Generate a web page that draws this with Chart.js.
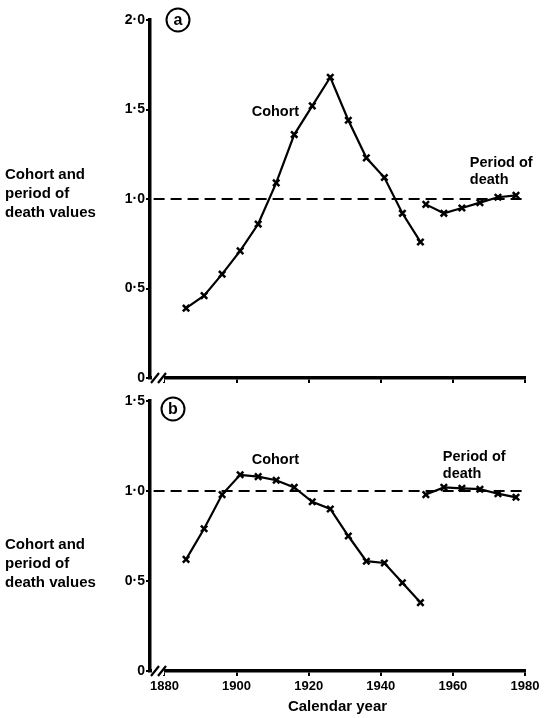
<!DOCTYPE html>
<html>
<head>
<meta charset="utf-8">
<script src="https://cdn.jsdelivr.net/npm/chart.js@4.4.1/dist/chart.umd.min.js"></script>
<style>
  html, body { margin: 0; padding: 0; background: #fff; }
  #wrap { position: relative; width: 552px; height: 718px; }
  canvas { position: absolute; left: 0; }
  #c1 { top: 0; }
  #c2 { top: 390px; }
</style>
</head>
<body>
<div id="wrap">
  <canvas id="c1" width="552" height="390"></canvas>
  <canvas id="c2" width="552" height="328"></canvas>
</div>
<script>
// data
const cohortYears = [1886, 1891, 1896, 1901, 1906, 1911, 1916, 1921, 1926, 1931, 1936, 1941, 1946, 1951];
const periodYears = [1952.5, 1957.5, 1962.5, 1967.5, 1972.5, 1977.5];

const cohortA = [0.39, 0.46, 0.58, 0.71, 0.86, 1.09, 1.36, 1.52, 1.68, 1.44, 1.23, 1.12, 0.92, 0.76];
const periodA = [0.97, 0.92, 0.95, 0.98, 1.01, 1.02];

const cohortB = [0.62, 0.79, 0.98, 1.09, 1.08, 1.06, 1.02, 0.94, 0.90, 0.75, 0.61, 0.60, 0.49, 0.38];
const periodB = [0.98, 1.02, 1.015, 1.01, 0.985, 0.965];

const yearTicks = [1880, 1900, 1920, 1940, 1960, 1980];
const ticksA = [0, 0.5, 1.0, 1.5, 2.0];
const ticksB = [0, 0.5, 1.0, 1.5];
const refValue = 1.0;
const xMin = 1876, xMax = 1980;

const FONT = "'Liberation Sans', Arial, sans-serif";
Chart.defaults.font.family = FONT;
Chart.defaults.font.weight = 'bold';
Chart.defaults.color = '#000';

const pts = (xs, ys) => xs.map((x, i) => ({ x, y: ys[i] }));
const fmt = v => v === 0 ? '0' : v.toFixed(1).replace('.', '\u00b7');

function series(data) {
  return {
    data,
    borderColor: '#000',
    borderWidth: 2.2,
    pointStyle: 'crossRot',
    pointRadius: 4.5,
    pointBorderWidth: 2.5,
    pointBorderColor: '#000',
    fill: false,
    tension: 0
  };
}

// axis break, panel letter, curve labels and side title
const decor = {
  id: 'decor',
  afterDraw(chart, args, o) {
    const { ctx, chartArea: a, scales: { x, y } } = chart;
    ctx.save();

    // break marks on the x axis
    ctx.fillStyle = '#fff';
    ctx.fillRect(a.left + 2, a.bottom - 3, 12, 7);
    ctx.strokeStyle = '#000';
    ctx.lineWidth = 2.2;
    ctx.beginPath();
    ctx.moveTo(a.left + 1, a.bottom + 5); ctx.lineTo(a.left + 9, a.bottom - 5);
    ctx.moveTo(a.left + 8, a.bottom + 5); ctx.lineTo(a.left + 16, a.bottom - 5);
    ctx.stroke();

    // circled letter
    ctx.lineWidth = 2;
    ctx.beginPath();
    ctx.arc(o.letterAt[0], o.letterAt[1], 11.5, 0, Math.PI * 2);
    ctx.stroke();
    ctx.fillStyle = '#000';
    ctx.font = 'bold 16px ' + FONT;
    ctx.textAlign = 'center';
    ctx.textBaseline = 'middle';
    ctx.fillText(o.letter, o.letterAt[0], o.letterAt[1] + 0.5);

    // curve labels
    ctx.font = 'bold 14.5px ' + FONT;
    ctx.textAlign = 'left';
    o.notes.forEach(n => {
      ctx.fillText(n.text, x.getPixelForValue(n.at[0]), y.getPixelForValue(n.at[1]));
    });

    // side title
    ctx.font = 'bold 15px ' + FONT;
    ['Cohort and', 'period of', 'death values'].forEach((t, i) => {
      ctx.fillText(t, 5, o.titleY + i * 19);
    });
    ctx.restore();
  }
};

function makeChart(id, cohort, period, yMax, yTicks, opts) {
  return new Chart(document.getElementById(id), {
    type: 'line',
    data: {
      datasets: [
        series(pts(cohortYears, cohort)),
        series(pts(periodYears, period)),
        {
          data: pts([xMin + 1, xMax], [refValue, refValue]),
          borderColor: '#000',
          borderWidth: 2,
          borderDash: [11, 6],
          pointRadius: 0,
          fill: false
        }
      ]
    },
    options: {
      responsive: false,
      animation: false,
      layout: { padding: { top: opts.padTop, right: 27, bottom: 0, left: 0 } },
      plugins: {
        legend: { display: false },
        tooltip: { enabled: false },
        decor: opts.decor
      },
      scales: {
        x: {
          type: 'linear',
          min: xMin,
          max: xMax,
          afterFit: s => { s.height = opts.xHeight; },
          afterBuildTicks: s => { s.ticks = yearTicks.map(v => ({ value: v })); },
          grid: { drawOnChartArea: false, drawTicks: true, tickLength: 5, color: '#000', lineWidth: 2 },
          border: { display: true, width: 3.5, color: '#000' },
          ticks: {
            display: opts.xLabels,
            font: { size: 13 },
            padding: 3,
            maxRotation: 0,
            callback: v => String(v)
          },
          title: {
            display: opts.xLabels,
            text: 'Calendar year',
            font: { size: 15 },
            padding: { top: 0, bottom: 2 }
          }
        },
        y: {
          min: 0,
          max: yMax,
          afterFit: s => { s.width = 150; },
          afterBuildTicks: s => { s.ticks = yTicks.map(v => ({ value: v })); },
          grid: { drawOnChartArea: false, drawTicks: true, tickLength: 4, color: '#000', lineWidth: 2 },
          border: { display: true, width: 3.5, color: '#000' },
          ticks: { font: { size: 14 }, padding: 1, callback: fmt }
        }
      }
    },
    plugins: [decor]
  });
}

makeChart('c1', cohortA, periodA, 2.0, ticksA, {
  padTop: 20, xHeight: 12, xLabels: false,
  decor: {
    letter: 'a', letterAt: [178, 20], titleY: 175,
    notes: [
      { text: 'Cohort', at: [1904.2, 1.486] },
      { text: 'Period of', at: [1964.7, 1.2] },
      { text: 'death', at: [1964.7, 1.105] }
    ]
  }
});

makeChart('c2', cohortB, periodB, 1.5, ticksB, {
  padTop: 11, xHeight: 47, xLabels: true,
  decor: {
    letter: 'b', letterAt: [173, 19], titleY: 155,
    notes: [
      { text: 'Cohort', at: [1904.2, 1.172] },
      { text: 'Period of', at: [1957.2, 1.19] },
      { text: 'death', at: [1957.2, 1.095] }
    ]
  }
});
</script>
</body>
</html>
